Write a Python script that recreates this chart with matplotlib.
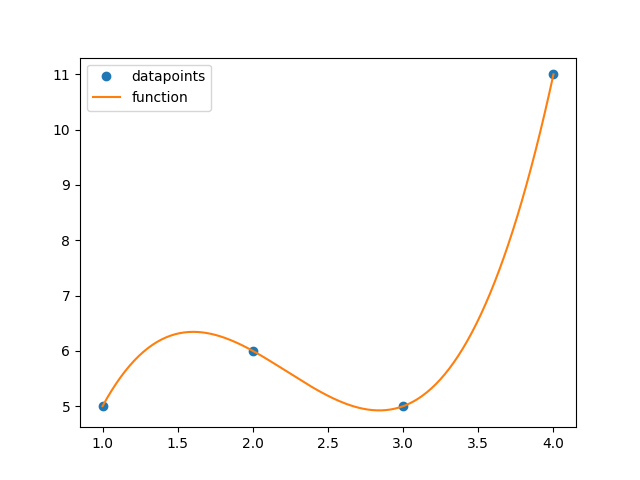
import numpy as np
import matplotlib
matplotlib.use("Agg")
import matplotlib.pyplot as plt

# data points
x = [1, 2, 3, 4]
y = [5, 6, 5, 11]

# cubic interpolating polynomial through the points
coef = np.polyfit(x, y, 3)
xs = np.linspace(1, 4, 300)
ys = np.polyval(coef, xs)

fig, ax = plt.subplots(figsize=(6.4, 4.8), dpi=100)
ax.plot(x, y, 'o', label='datapoints')
ax.plot(xs, ys, '-', label='function')
ax.legend(loc='upper left')
fig.savefig('out.png')
